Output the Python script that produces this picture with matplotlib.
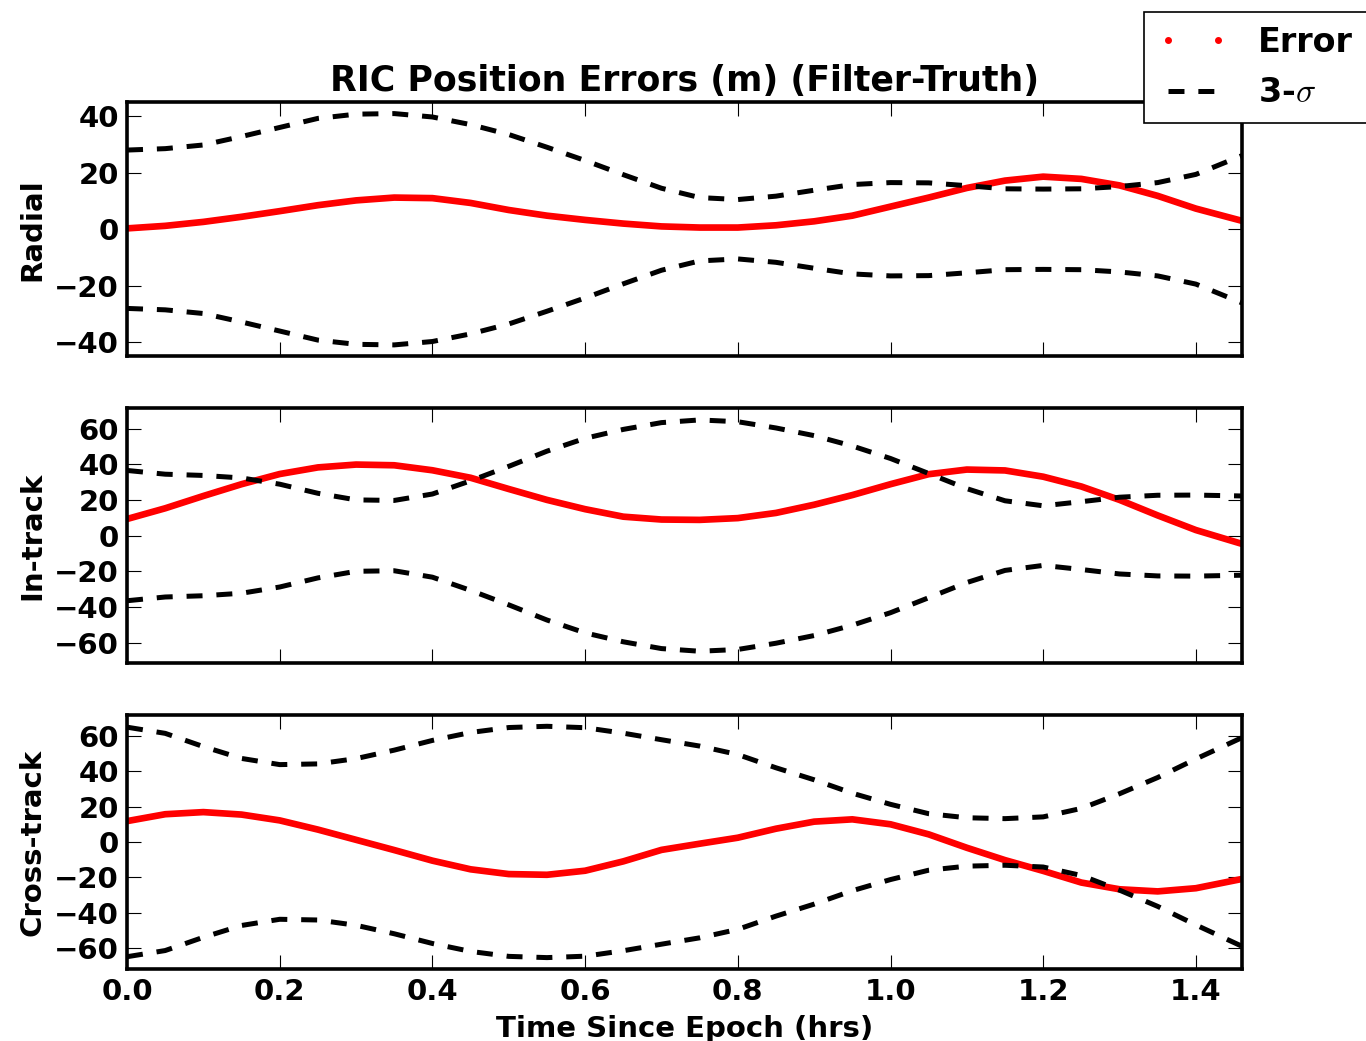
#!/usr/bin/env python3

import matplotlib

matplotlib.use("Agg")
import matplotlib.pyplot as plt
from matplotlib.lines import Line2D

# time since epoch (hrs)
hours = [0.00, 0.05, 0.10, 0.15, 0.20, 0.25, 0.30, 0.35, 0.40, 0.45,
         0.50, 0.55, 0.60, 0.65, 0.70, 0.75, 0.80, 0.85, 0.90, 0.95,
         1.00, 1.05, 1.10, 1.15, 1.20, 1.25, 1.30, 1.35, 1.40, 1.46]

# filter - truth, metres
radial_err = [0.3, 1.2, 2.6, 4.4, 6.4, 8.5, 10.2, 11.2, 11.0, 9.3,
              6.8, 4.8, 3.3, 2.0, 1.0, 0.6, 0.6, 1.4, 2.8, 4.8,
              8.0, 11.2, 14.6, 17.2, 18.6, 17.8, 15.5, 11.8, 7.3, 3.0]
intrack_err = [9.3, 15.3, 22.2, 28.8, 34.5, 38.2, 39.8, 39.4, 36.6, 32.4,
               26.1, 20.0, 14.8, 10.6, 9.0, 8.8, 9.8, 12.7, 17.3, 22.7,
               28.8, 34.4, 37.0, 36.5, 33.0, 27.5, 20.0, 11.3, 3.1, -4.6]
crosstrack_err = [11.8, 15.7, 16.9, 15.5, 12.2, 7.0, 1.2, -4.6, -10.6, -15.5,
                  -18.2, -18.6, -16.3, -11.0, -4.5, -1.0, 2.4, 7.5, 11.5, 12.8,
                  10.0, 4.3, -3.3, -10.3, -16.4, -23.0, -26.8, -28.0, -26.2, -21.0]

# 3-sigma bounds (plotted as +/-)
radial_sig = [28.0, 28.5, 29.8, 32.8, 36.0, 39.2, 40.7, 40.9, 39.7, 37.0,
              33.5, 29.0, 24.3, 19.3, 14.5, 11.2, 10.5, 11.7, 13.8, 15.8,
              16.5, 16.4, 15.4, 14.3, 14.2, 14.3, 15.1, 16.5, 19.4, 26.0]
intrack_sig = [36.5, 34.4, 33.7, 32.3, 28.8, 23.7, 20.0, 19.7, 23.3, 30.7,
               38.8, 47.3, 54.5, 59.5, 63.3, 64.8, 63.8, 60.3, 56.0, 50.2,
               43.2, 34.8, 26.3, 19.5, 16.7, 19.0, 21.5, 22.6, 22.7, 22.2]
crosstrack_sig = [65.0, 61.5, 54.0, 47.3, 43.8, 44.2, 47.2, 52.0, 57.5, 62.0,
                  64.8, 65.5, 64.7, 61.6, 57.9, 54.3, 49.5, 42.0, 35.2, 27.6,
                  21.3, 16.0, 13.7, 13.2, 14.2, 19.0, 27.3, 36.5, 47.0, 59.0]

components = ["Radial", "In-track", "Cross-track"]
errors = [radial_err, intrack_err, crosstrack_err]
sigmas = [radial_sig, intrack_sig, crosstrack_sig]

DASHES = (11.5, 10)


def setup_style() -> None:
    plt.rcParams["font.family"] = "DejaVu Sans"
    plt.rcParams["font.weight"] = "bold"
    plt.rcParams["axes.labelweight"] = "bold"
    plt.rcParams["axes.titleweight"] = "bold"
    plt.rcParams["mathtext.fontset"] = "cm"
    plt.rcParams["lines.scale_dashes"] = False
    plt.rcParams["xtick.direction"] = "in"
    plt.rcParams["ytick.direction"] = "in"
    plt.rcParams["xtick.top"] = True
    plt.rcParams["ytick.right"] = True


def main() -> None:
    setup_style()
    fig, axes = plt.subplots(3, 1, figsize=(13.66, 10.41), dpi=100, sharex=True)
    fig.subplots_adjust(left=0.093, right=0.909, top=0.902, bottom=0.069,
                        hspace=0.204)

    for ax, name, err, sig in zip(axes, components, errors, sigmas):
        lower = [-s for s in sig]
        ax.plot(hours, err, color="red", lw=4.8, solid_joinstyle="round")
        ax.plot(hours, sig, color="black", lw=3.6, ls="--", dashes=DASHES)
        ax.plot(hours, lower, color="black", lw=3.6, ls="--", dashes=DASHES)

        lim = 1.1 * max(sig)
        ax.set_ylim(-lim, lim)
        ax.set_xlim(hours[0], hours[-1])
        ax.set_ylabel(name, fontsize=21)
        ax.yaxis.set_label_coords(-0.072, 0.5)
        ax.tick_params(labelsize=21, length=10, width=0.8, pad=6)
        for spine in ax.spines.values():
            spine.set_linewidth(2.6)

    axes[0].set_yticks([-40, -20, 0, 20, 40])
    axes[1].set_yticks([-60, -40, -20, 0, 20, 40, 60])
    axes[2].set_yticks([-60, -40, -20, 0, 20, 40, 60])
    axes[2].set_xticks([0.0, 0.2, 0.4, 0.6, 0.8, 1.0, 1.2, 1.4])
    axes[2].set_xticklabels(["0.0", "0.2", "0.4", "0.6", "0.8", "1.0", "1.2", "1.4"])
    axes[2].set_xlabel("Time Since Epoch (hrs)", fontsize=21, labelpad=7)
    axes[0].set_title("RIC Position Errors (m) (Filter-Truth)", fontsize=25, pad=8)

    handles = [
        Line2D([], [], color="red", marker="o", markersize=4, ls="none"),
        Line2D([], [], color="black", lw=3.6, ls="--", dashes=DASHES),
    ]
    leg = fig.legend(handles, ["Error", r"3-$\sigma$"], loc="upper left",
                     bbox_to_anchor=(0.8375, 0.9885), borderaxespad=0,
                     fontsize=24, numpoints=2, handlelength=2.1,
                     handletextpad=0.9, borderpad=0.42, labelspacing=0.52,
                     fancybox=False, framealpha=1)
    leg.get_frame().set_edgecolor("black")
    leg.get_frame().set_linewidth(1.2)

    fig.savefig("out.png", dpi=100)
    plt.close(fig)


if __name__ == "__main__":
    main()
